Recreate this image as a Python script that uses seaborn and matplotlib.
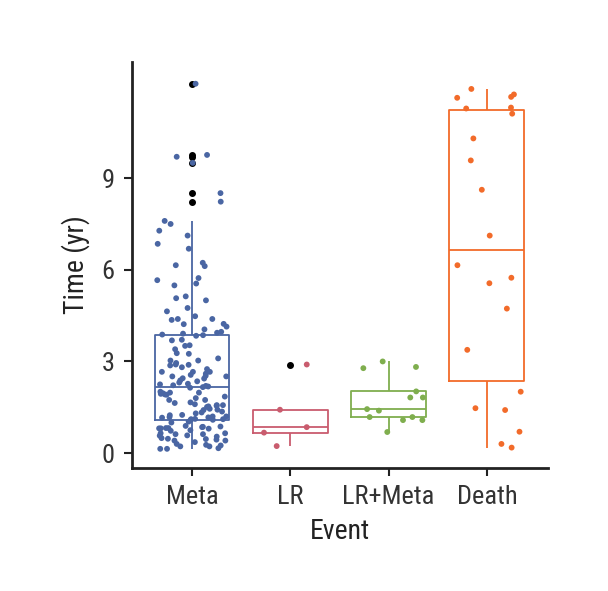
import numpy as np
import pandas as pd
import matplotlib
matplotlib.use("Agg")
import matplotlib.pyplot as plt
import seaborn as sns

# values (years)
meta = [12.09, 9.76, 9.70, 9.50, 8.51, 8.23, 7.60, 7.50, 7.28, 7.12, 6.85, 6.69,
        6.23, 6.15, 6.12, 5.73, 5.66, 5.55, 5.49, 5.13, 5.07, 5.00, 4.75, 4.64,
        4.48, 4.39, 4.39, 4.36, 4.22, 4.23, 4.14, 4.05, 3.97, 3.94, 3.91,
        3.88, 3.86, 3.84, 3.71, 3.69, 3.51, 3.53, 3.40, 3.27, 3.25, 3.10, 3.03,
        2.95, 2.90, 2.89, 3.03, 2.87, 2.66, 2.66, 2.56, 2.81, 2.75, 2.66, 2.60,
        2.53, 2.45, 2.44, 2.38, 2.35, 2.31, 2.27, 2.25, 2.22, 2.51, 2.51, 2.20,
        2.16, 2.18,
        2.14, 1.98, 2.01, 1.94, 1.98, 1.91, 1.96, 1.92, 1.80, 1.74, 1.85, 1.74,
        1.60, 1.51, 1.64, 1.57, 1.55, 1.53, 1.66, 1.57, 1.45, 1.41, 1.36, 1.33,
        1.25, 1.30, 1.24, 1.18, 1.17, 1.20, 1.20, 1.42, 1.12, 1.16, 1.11, 1.11,
        1.09, 1.09,
        1.03, 1.00, 0.82, 0.81, 0.87, 0.85, 0.82, 0.89, 0.81, 0.73, 0.80, 0.86,
        0.75, 0.62, 0.62, 0.65, 0.58, 0.65, 0.57, 0.49, 0.41, 0.36, 0.44, 0.47,
        0.41, 0.46, 0.25, 0.22, 0.14, 0.16, 0.30, 0.22, 0.14, 0.27, 0.54]
lr = [2.90, 1.42, 0.85, 0.67, 0.23]
lr_meta = [3.00, 2.82, 2.78, 2.02, 1.82, 1.82, 1.39, 1.44, 1.18, 1.18, 1.08, 1.08, 0.69]
death = [11.92, 11.66, 11.74, 11.63, 11.28, 11.31, 11.11, 10.30, 9.58, 8.62, 7.12,
         6.15, 5.74, 5.56, 4.73, 3.38, 2.01, 1.41, 1.47, 0.70, 0.30, 0.18]

events = ["Meta", "LR", "LR+Meta", "Death"]
colors = ["#4a66a3", "#c95c6e", "#7fae4e", "#f26b2a"]
yticks = [0, 3, 6, 9]

df = pd.DataFrame({
    "Event": ["Meta"] * len(meta) + ["LR"] * len(lr) + ["LR+Meta"] * len(lr_meta) + ["Death"] * len(death),
    "Time": meta + lr + lr_meta + death,
})

sns.set_style("white")
plt.rcParams["font.family"] = ["Roboto Condensed", "Roboto", "DejaVu Sans"]

fig = plt.figure(figsize=(6.08, 5.91), dpi=100)
ax = fig.add_axes([0.217, 0.208, 0.684, 0.687])

pal = dict(zip(events, colors))
sns.boxplot(data=df, x="Event", y="Time", hue="Event", order=events, palette=pal,
            fill=False, width=0.76, linewidth=1.3, showcaps=False, legend=False,
            flierprops=dict(marker="o", markerfacecolor="black", markeredgecolor="black",
                            markersize=4), ax=ax)
for line in ax.lines:
    if line.get_marker() == "o":
        line.set_markerfacecolor("black")
        line.set_markeredgecolor("black")

np.random.seed(3)
sns.stripplot(data=df, x="Event", y="Time", hue="Event", order=events, palette=pal,
              jitter=0.37, size=4.2, legend=False, ax=ax)

ax.set_ylim(-0.49, 12.8)
ax.set_xlim(-0.61, 3.62)
ax.set_yticks(yticks)
ax.set_yticklabels([str(t) for t in yticks])
ax.set_xlabel("Event", fontsize=20, color="#222222", labelpad=6)
ax.set_ylabel("Time (yr)", fontsize=20, color="#222222", labelpad=8)
ax.tick_params(axis="both", labelsize=19, labelcolor="#333333", length=5.5, width=1.5,
               color="#222222", left=True, bottom=True, direction="out", pad=7)
sns.despine(ax=ax)
for s in ["left", "bottom"]:
    ax.spines[s].set_linewidth(2)
    ax.spines[s].set_color("#222222")

fig.savefig("out.png", dpi=100)
